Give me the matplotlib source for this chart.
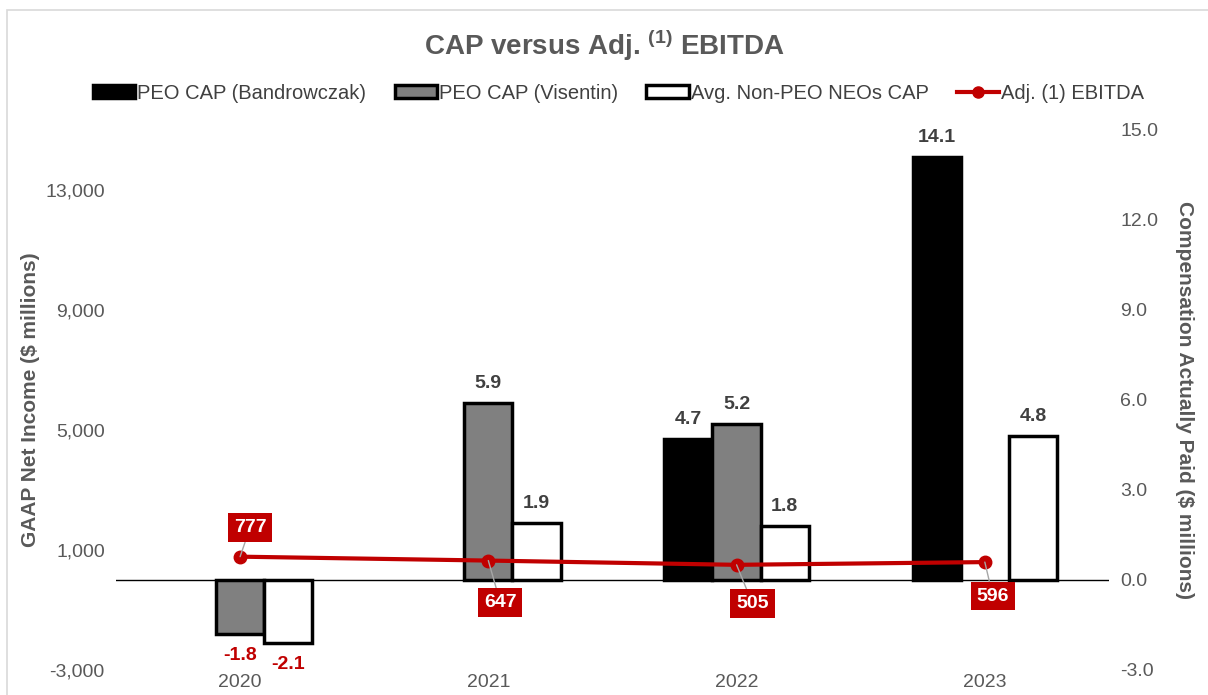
import matplotlib.pyplot as plt
from matplotlib.patches import Patch, Rectangle
from matplotlib.lines import Line2D

plt.rcParams['font.family'] = ['Liberation Sans', 'DejaVu Sans']
plt.rcParams['mathtext.fontset'] = 'custom'
plt.rcParams['mathtext.rm'] = 'Liberation Sans'
plt.rcParams['mathtext.bf'] = 'Liberation Sans:bold'

years = ['2020', '2021', '2022', '2023']
peo_bandrowczak = [None, None, 4.7, 14.1]
peo_visentin = [-1.8, 5.9, 5.2, None]
non_peo_neos = [-2.1, 1.9, 1.8, 4.8]
adj_ebitda = [777, 647, 505, 596]

red = '#C00000'
gray_txt = '#595959'

fig = plt.figure(figsize=(12.08, 6.95), dpi=100)
ax = fig.add_axes([0.096, 0.036, 0.822, 0.777])
ax2 = ax.twinx()
ax.set_zorder(3)
ax.patch.set_visible(False)

# bars on the right axis
w = 0.194
x = list(range(len(years)))
series = [
    (peo_bandrowczak, -w, 'black'),
    (peo_visentin, 0, '#808080'),
    (non_peo_neos, w, 'white'),
]
for vals, off, col in series:
    for i, v in enumerate(vals):
        if v is None:
            continue
        ax2.bar(i + off, v, width=w, color=col, edgecolor='black', linewidth=2.5, zorder=2)
        if v >= 0:
            ax2.text(i + off, v + 0.35, f'{v:.1f}', ha='center', va='bottom',
                     fontsize=14, fontweight='bold', color='#404040')
        else:
            ax2.text(i + off, v - 0.45, f'{v:.1f}', ha='center', va='top',
                     fontsize=14, fontweight='bold', color=red)

ax2.axhline(0, color='black', linewidth=1, zorder=1)
ax2.set_ylim(-3, 15)
ax2.set_yticks([-3, 0, 3, 6, 9, 12, 15])
ax2.set_yticklabels([f'{t:.1f}' for t in [-3, 0, 3, 6, 9, 12, 15]])
ax2.set_ylabel('Compensation Actually Paid ($ millions)', rotation=-90, labelpad=26,
               fontsize=15, fontweight='bold', color=gray_txt)

# EBITDA line on the left axis
ax.plot(x, adj_ebitda, color=red, linewidth=3, marker='o', markersize=9, zorder=4)
offsets = [(10, 29), (12, -42), (16, -39), (8, -34)]
for i, v in enumerate(adj_ebitda):
    ax.annotate(f'{v}', xy=(i, v), xytext=offsets[i], textcoords='offset pixels',
                ha='center', va='center', fontsize=14, fontweight='bold', color='white',
                bbox=dict(boxstyle='square,pad=0.3', fc=red, ec='none'),
                arrowprops=dict(arrowstyle='-', color='#A6A6A6', lw=1, shrinkA=0, shrinkB=0),
                zorder=5)

ax.set_ylim(-3000, 15000)
ax.set_yticks([-3000, 1000, 5000, 9000, 13000])
ax.set_yticklabels([f'{t:,}' for t in [-3000, 1000, 5000, 9000, 13000]])
ax.set_ylabel('GAAP Net Income ($ millions)', fontsize=15, fontweight='bold',
              color=gray_txt, labelpad=4)
ax.set_xlim(-0.5, 3.5)
ax.set_xticks(x)
ax.set_xticklabels(years)

for a in (ax, ax2):
    for s in a.spines.values():
        s.set_visible(False)
    a.tick_params(length=0, labelsize=14, labelcolor=gray_txt, pad=8)
ax.tick_params(axis='x', pad=3)

fig.text(0.5, 0.935, r'CAP versus Adj. $^{\mathbf{(1)}}$ EBITDA', ha='center', va='center',
         fontsize=20, fontweight='bold', color=gray_txt)

handles = [
    Patch(facecolor='black', edgecolor='black', linewidth=2.5),
    Patch(facecolor='#808080', edgecolor='black', linewidth=2.5),
    Patch(facecolor='white', edgecolor='black', linewidth=2.5),
    Line2D([0], [0], color=red, linewidth=3, marker='o', markersize=8),
]
labels = ['PEO CAP (Bandrowczak)', 'PEO CAP (Visentin)', 'Avg. Non-PEO NEOs CAP', 'Adj. (1) EBITDA']
fig.legend(handles, labels, loc='center', bbox_to_anchor=(0.512, 0.866), ncol=4, frameon=False,
           fontsize=14.5, handlelength=2.1, handleheight=0.65, handletextpad=0.1,
           columnspacing=1.4, labelcolor='#404040')

fig.patches.append(Rectangle((0.006, -0.01), 1.0, 0.996, transform=fig.transFigure,
                             fill=False, edgecolor='#D9D9D9', linewidth=1.2))

fig.savefig('out.png', dpi=100)
